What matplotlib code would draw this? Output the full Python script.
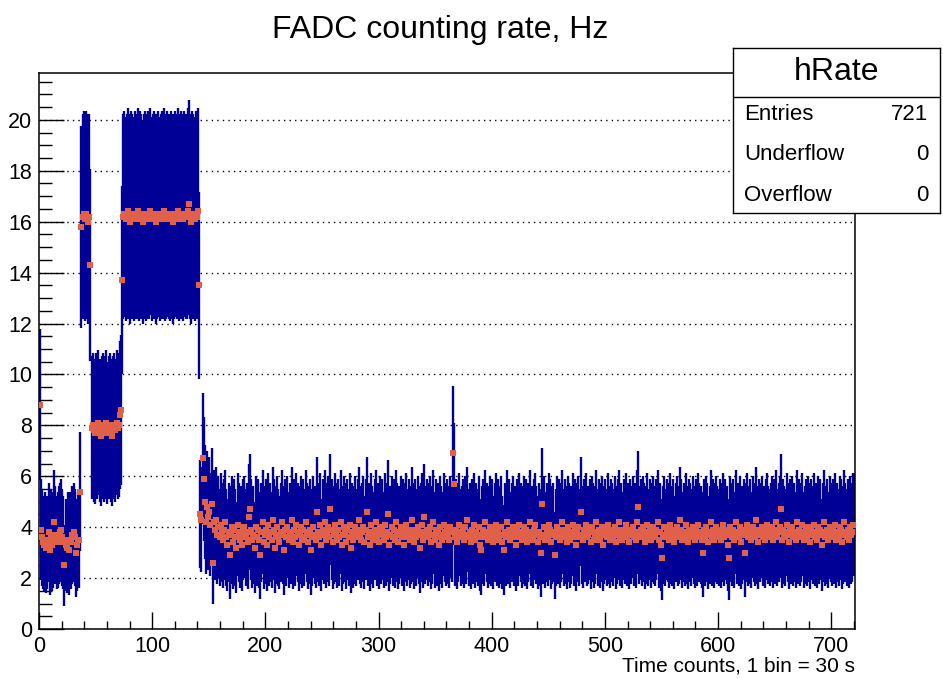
import numpy as np
import matplotlib
matplotlib.use("Agg")
import matplotlib.pyplot as plt

plt.rcParams['font.family'] = ['Liberation Sans', 'DejaVu Sans']

# FADC counting rate per bin (Hz), 721 bins of 30 s
rate_start = [
    8.8,
    3.9, 3.6, 3.4, 3.3, 3.5, 3.2, 3.4, 3.8, 3.1, 3.6, 3.3, 3.5, 4.2, 3.7, 3.4, 3.5, 3.7, 3.8,
    3.9, 3.6, 3.4, 2.5, 3.3, 3.2, 3.5, 3.1, 3.5, 3.4, 3.7, 3.8, 3.6, 3.0, 3.3, 3.5, 3.5,
    5.4,
    15.8, 16.2, 16.3, 16.1, 16.3, 16.2, 16.0, 16.2,
    14.3,
    7.9, 8.0, 7.8, 7.7, 8.0, 7.9, 8.1, 7.8, 7.6, 7.9, 8.0, 7.8, 7.9, 8.1, 7.7, 7.9, 8.0,
    7.8, 7.6, 7.9, 8.0, 7.8, 8.1, 7.9, 8.0,
    8.4, 8.6,
    13.7,
    16.2, 16.3, 16.1, 16.2, 16.4, 16.2, 16.0, 16.3, 16.2, 16.1,
    16.3, 16.2, 16.2, 16.4, 16.1, 16.3, 16.2, 16.0, 16.2, 16.3,
    16.1, 16.2, 16.3, 16.2, 16.4, 16.1, 16.2, 16.3, 16.2, 16.0,
    16.2, 16.3, 16.1, 16.2, 16.3, 16.2, 16.4, 16.1, 16.2, 16.3,
    16.2, 16.1, 16.3, 16.2, 16.0, 16.2, 16.3, 16.2, 16.4, 16.1,
    16.2, 16.3, 16.2, 16.1, 16.3, 16.2, 16.2, 16.4, 16.7, 16.2,
    16.0, 16.3, 16.2, 16.1, 16.3, 16.2, 16.4,
    13.5,
]

rate_tail = [
    4.5, 4.3, 6.7, 5.9, 5.0, 4.2, 4.8, 4.4, 4.6, 4.1, 4.9, 2.6, 4.2, 3.9, 4.3, 3.7, 4.0, 3.6, 4.1, 3.8,
    3.5, 3.9, 4.2, 3.6, 3.3, 3.8, 2.9, 3.7, 4.0, 3.4, 3.9, 3.6, 3.2, 4.1, 3.8, 3.5, 3.7, 3.3, 3.9, 4.0,
    3.6, 3.8, 3.4, 4.4, 4.7, 3.9, 3.5, 3.7, 3.2, 4.0, 3.6, 3.9, 3.5, 2.9, 3.8, 4.2, 3.4, 3.7, 3.9, 3.3,
    4.1, 3.6, 3.8, 3.5, 4.3, 3.9, 3.2, 3.7, 4.0, 3.6, 3.4, 3.8, 4.2, 3.7, 3.1, 3.9, 3.6, 4.0, 3.5, 3.8,
    3.7, 4.3, 3.4, 3.9, 3.6, 4.1, 3.8, 3.3, 3.7, 4.0, 3.5, 3.9, 3.6, 4.2, 3.8, 3.4, 3.7, 3.9, 3.1, 3.6,
    4.0, 3.7, 3.5, 4.6, 3.8, 3.6, 4.1, 3.3, 3.9, 3.7, 4.2, 3.5, 3.8, 4.0, 3.6, 4.7, 3.9, 3.4, 3.7, 4.1,
    3.8, 3.5, 3.9, 3.6, 4.2, 3.3, 3.7, 4.0, 3.8, 3.4, 3.9, 3.6, 4.1, 3.2, 3.8, 3.5, 3.7, 4.0, 3.6, 3.9,
    4.3, 3.7, 3.5, 3.8, 4.0, 3.4, 3.9, 4.6, 3.6, 3.8, 3.3, 4.1, 3.7, 3.5, 3.9, 4.2, 3.6, 3.8, 3.4, 4.0,
    3.7, 3.9, 3.5, 4.1, 3.6, 3.8, 4.5, 3.3, 3.7, 4.0, 3.6, 3.9, 3.5, 4.2, 3.8, 3.4, 3.7, 4.0, 3.6, 3.9,
    3.3, 3.8, 4.1, 3.6, 3.9, 3.5, 3.7, 4.3, 3.8, 3.4, 3.9, 3.6, 4.0, 3.7, 3.2, 3.8, 4.1, 3.5, 4.4, 3.7,
    3.9, 3.6, 3.8, 4.0, 3.4, 3.7, 4.2, 3.5, 3.9, 3.6, 3.8, 3.3, 4.0, 3.7, 3.5, 4.1, 3.8, 3.6, 3.9, 3.7,
    3.5, 4.0, 3.8, 6.9, 5.7, 3.6, 3.9, 3.4, 3.8, 4.1, 3.6, 3.7, 3.9, 3.5, 4.0, 3.7, 4.3, 3.6, 3.8, 3.4,
    3.9, 3.7, 4.1, 3.5, 3.8, 3.6, 4.0, 3.3, 3.1, 3.7, 3.9, 3.6, 4.2, 3.8, 3.5, 3.7, 4.0, 3.6, 3.9, 3.4,
    3.8, 4.1, 3.6, 3.9, 3.5, 3.7, 4.0, 3.4, 3.1, 3.8, 3.6, 4.2, 3.7, 3.9, 3.5, 3.8, 4.0, 3.6, 3.7, 3.3,
    3.9, 3.6, 4.1, 3.8, 3.5, 3.7, 4.0, 3.6, 3.9, 3.4, 3.8, 4.2, 3.6, 3.7, 3.5, 3.9, 4.1, 3.7, 3.4, 3.8,
    3.6, 3.0, 4.9, 3.7, 4.0, 3.5, 3.8, 3.6, 4.1, 3.9, 3.4, 3.7, 3.8, 2.9, 3.6, 4.0, 3.7, 3.9, 3.5, 3.8,
    4.2, 3.6, 3.9, 3.7, 3.4, 4.0, 3.8, 3.5, 3.7, 4.1, 3.6, 3.9, 3.3, 3.8, 4.0, 3.6, 4.6, 3.7, 3.5, 3.9,
    3.8, 4.1, 3.6, 3.7, 3.9, 3.4, 4.0, 3.8, 3.5, 3.7, 4.2, 3.6, 3.9, 3.5, 3.8, 4.0, 3.3, 3.7, 3.9, 3.6,
    4.1, 3.7, 3.5, 3.9, 3.8, 3.6, 4.0, 3.4, 3.7, 3.9, 4.2, 3.6, 3.8, 3.5, 3.9, 3.7, 4.1, 3.6, 3.8, 3.4,
    3.9, 3.7, 4.0, 3.6, 3.8, 3.5, 4.2, 4.8, 3.7, 3.9, 3.6, 4.0, 3.8, 3.4, 3.7, 4.1, 3.6, 3.9, 3.5, 3.8,
    4.0, 3.7, 3.6, 3.9, 4.2, 3.5, 3.8, 3.3, 2.8, 3.7, 4.0, 3.6, 3.9, 3.8, 3.5, 4.1, 3.7, 3.6, 3.9, 3.4,
    3.8, 4.0, 3.6, 3.7, 4.3, 3.9, 3.5, 3.8, 3.6, 4.1, 3.7, 3.4, 3.9, 3.8, 3.6, 4.0, 3.7, 3.5, 3.9, 3.6,
    4.1, 3.8, 3.7, 3.5, 3.0, 3.9, 3.6, 4.0, 3.8, 3.4, 3.7, 4.2, 3.6, 3.9, 3.5, 3.8, 4.0, 3.7, 3.6, 3.9,
    3.5, 3.8, 4.1, 3.6, 3.9, 3.7, 3.3, 2.8, 4.0, 3.8, 3.6, 3.9, 3.5, 4.2, 3.7, 3.8, 3.6, 4.0, 3.4, 3.7,
    3.9, 3.0, 3.8, 4.1, 3.6, 3.7, 3.9, 3.5, 4.0, 3.8, 3.6, 4.3, 3.7, 3.4, 3.9, 3.8, 4.0, 3.6, 3.7, 3.5,
    3.9, 4.1, 3.7, 3.6, 3.8, 4.0, 3.5, 3.9, 3.7, 4.2, 3.6, 3.8, 4.0, 4.7, 3.5, 3.9, 3.7, 3.6, 4.1, 3.8,
    3.4, 3.9, 3.7, 4.0, 3.6, 3.8, 3.5, 4.2, 3.7, 3.9, 3.6, 3.8, 4.1, 3.5, 3.7, 3.9, 3.6, 4.0, 3.8, 3.4,
    3.9, 3.7, 4.1, 3.6, 3.8, 3.5, 4.0, 3.7, 3.9, 3.3, 3.8, 4.2, 3.6, 3.7, 3.9, 3.5, 4.0, 3.8, 3.6, 3.9,
    3.7, 4.1, 3.5, 3.8, 3.6, 4.0, 3.9, 3.4, 3.7, 4.2, 3.8, 3.6, 3.9, 3.5, 4.0, 3.7, 3.8, 4.1, 4.1,
]

rate = np.array(rate_start + rate_tail)
n_bins = len(rate)  # 721

stat_names = ["Entries", "Underflow", "Overflow"]
stat_values = ["721", "0", "0"]

title = "FADC counting rate, Hz"
xlabel = "Time counts, 1 bin = 30 s"

blue = '#000096'
red = '#e0604a'

W, H = 943, 679
fig = plt.figure(figsize=(W / 100, H / 100), dpi=100)
ax = fig.add_axes([39 / W, 1 - 629 / H, (855 - 39) / W, (629 - 73) / H])

x = np.arange(n_bins) + 0.5
err = np.sqrt(rate)  # poisson errors, as ROOT draws them
gap = 0.1
ax.vlines(x, rate - err, rate - gap, color=blue, lw=1.7, zorder=2)
ax.vlines(x, rate + gap, rate + err, color=blue, lw=1.7, zorder=2)
ax.plot(x, rate, 's', color=red, ms=4.0, mew=0, zorder=3)

ax.set_xlim(0, n_bins)
ax.set_ylim(0, 21.84)
ax.set_xticks(np.arange(0, 701, 100))
ax.set_xticks(np.arange(0, 721, 20), minor=True)
ax.set_yticks(np.arange(0, 21, 2))
ax.set_yticks(np.arange(0, 21.8, 0.5), minor=True)
ax.tick_params(axis='both', which='both', direction='in', labelsize=15.5, width=1.0)
ax.tick_params(axis='y', which='major', length=18, pad=5)
ax.tick_params(axis='y', which='minor', length=9)
ax.tick_params(axis='x', which='major', length=12, pad=5)
ax.tick_params(axis='x', which='minor', length=6)
ax.yaxis.grid(True, which='major', linestyle=(0, (1, 3)), color='black', lw=1.0, zorder=0)
ax.set_axisbelow(True)
for s in ax.spines.values():
    s.set_linewidth(1.1)

ax.set_xlabel(xlabel, loc='right', fontsize=15, labelpad=0)
fig.text(440 / W, 1 - 30 / H, title, ha='center', va='center', fontsize=23)

# stats box
bx = fig.add_axes([733 / W, 1 - 213 / H, (940 - 733) / W, (213 - 48) / H])
bx.set_xlim(0, 1)
bx.set_ylim(0, 1)
bx.set_xticks([])
bx.set_yticks([])
bx.set_facecolor('white')
for s in bx.spines.values():
    s.set_linewidth(1.0)
bx.axhline(0.703, color='black', lw=1.0)
bx.text(0.5, 0.852, "hRate", ha='center', va='center', fontsize=23)
for name, val, yy in zip(stat_names, stat_values, [0.594, 0.352, 0.105]):
    bx.text(0.053, yy, name, ha='left', va='center', fontsize=16)
    bx.text(0.945, yy, val, ha='right', va='center', fontsize=16)

fig.savefig("out.png", dpi=100)
